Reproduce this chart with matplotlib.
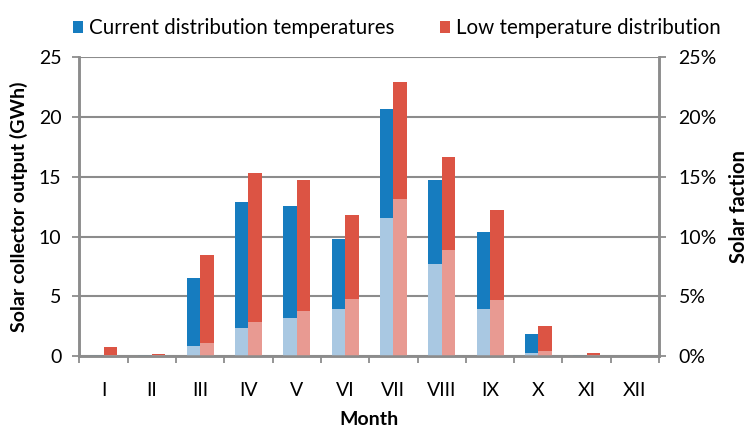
#!/usr/bin/env python3
import matplotlib

matplotlib.use("Agg")
import matplotlib.pyplot as plt
import numpy as np

months = ["I", "II", "III", "IV", "V", "VI", "VII", "VIII", "IX", "X", "XI", "XII"]
current_output = [0.08, 0.08, 6.57, 12.86, 12.58, 9.77, 20.63, 14.75, 10.41, 1.81, 0.11, 0.0]
low_temp_output = [0.75, 0.2, 8.44, 15.28, 14.7, 11.78, 22.91, 16.68, 12.25, 2.5, 0.22, 0.0]
current_fraction = [0.0003, 0.0003, 0.0084, 0.0237, 0.0315, 0.039, 0.1155, 0.0768, 0.039, 0.0028, 0.0003, 0.0]
low_temp_fraction = [0.001, 0.0008, 0.0111, 0.0284, 0.0376, 0.0479, 0.1314, 0.0891, 0.0465, 0.0042, 0.0006, 0.0]

plt.rcParams["font.family"] = ["Lato", "DejaVu Sans"]

GREY = "#8c8c8c"
BLUE = "#167cbf"
RED = "#dc5444"
LIGHT_BLUE = "#a9c8e2"
LIGHT_RED = "#e89a92"

fig = plt.figure(figsize=(7.49, 4.30), dpi=100)
ax = fig.add_axes([0.106, 0.172, 0.774, 0.695])
ax2 = ax.twinx()

x = np.arange(len(months))
w = 0.28
ax.bar(x - w / 2, current_output, w, color=BLUE, label="Current distribution temperatures", zorder=2)
ax.bar(x + w / 2, low_temp_output, w, color=RED, label="Low temperature distribution", zorder=2)
ax2.bar(x - w / 2, current_fraction, w, color=LIGHT_BLUE, zorder=2)
ax2.bar(x + w / 2, low_temp_fraction, w, color=LIGHT_RED, zorder=2)

ax.set_xlim(-0.5, len(months) - 0.5)
ax.set_ylim(0, 25)
ax2.set_ylim(0, 0.25)
ax.set_yticks(np.arange(0, 26, 5))
ax2.set_yticks(np.arange(0, 0.26, 0.05))
ax2.set_yticklabels([f"{int(round(v * 100))}%" for v in np.arange(0, 0.26, 0.05)])

ax.set_xticks(x)
ax.set_xticklabels(months)
ax.set_xticks(np.arange(-0.5, len(months), 1), minor=True)
ax.tick_params(axis="x", which="major", length=0, pad=19, labelsize=14)
ax.tick_params(axis="x", which="minor", length=5, width=1.3, color=GREY, direction="out")
ax.tick_params(axis="y", length=5, width=1.3, color=GREY, labelsize=14, pad=8)
ax2.tick_params(axis="y", length=5, width=1.3, color=GREY, labelsize=14, pad=9)

ax.yaxis.grid(True, color=GREY, linewidth=1.5, zorder=0)
ax.set_axisbelow(True)

for a in (ax, ax2):
    a.spines["top"].set_visible(False)
    for s in ("left", "right", "bottom"):
        a.spines[s].set_color(GREY)
        a.spines[s].set_linewidth(1.8)

ax.set_xlabel("Month", fontsize=14, fontweight="bold", labelpad=8)
ax.set_ylabel("Solar collector output (GWh)", fontsize=14, fontweight="bold", labelpad=8)
ax2.set_ylabel("Solar faction", fontsize=14.5, fontweight="bold", labelpad=9)

fig.legend(loc="upper center", bbox_to_anchor=(0.53, 1.0), ncol=2, frameon=False,
           fontsize=14.8, handlelength=0.5, handleheight=0.55, handletextpad=0.3, columnspacing=2.2)

fig.savefig("out.png", dpi=100)
